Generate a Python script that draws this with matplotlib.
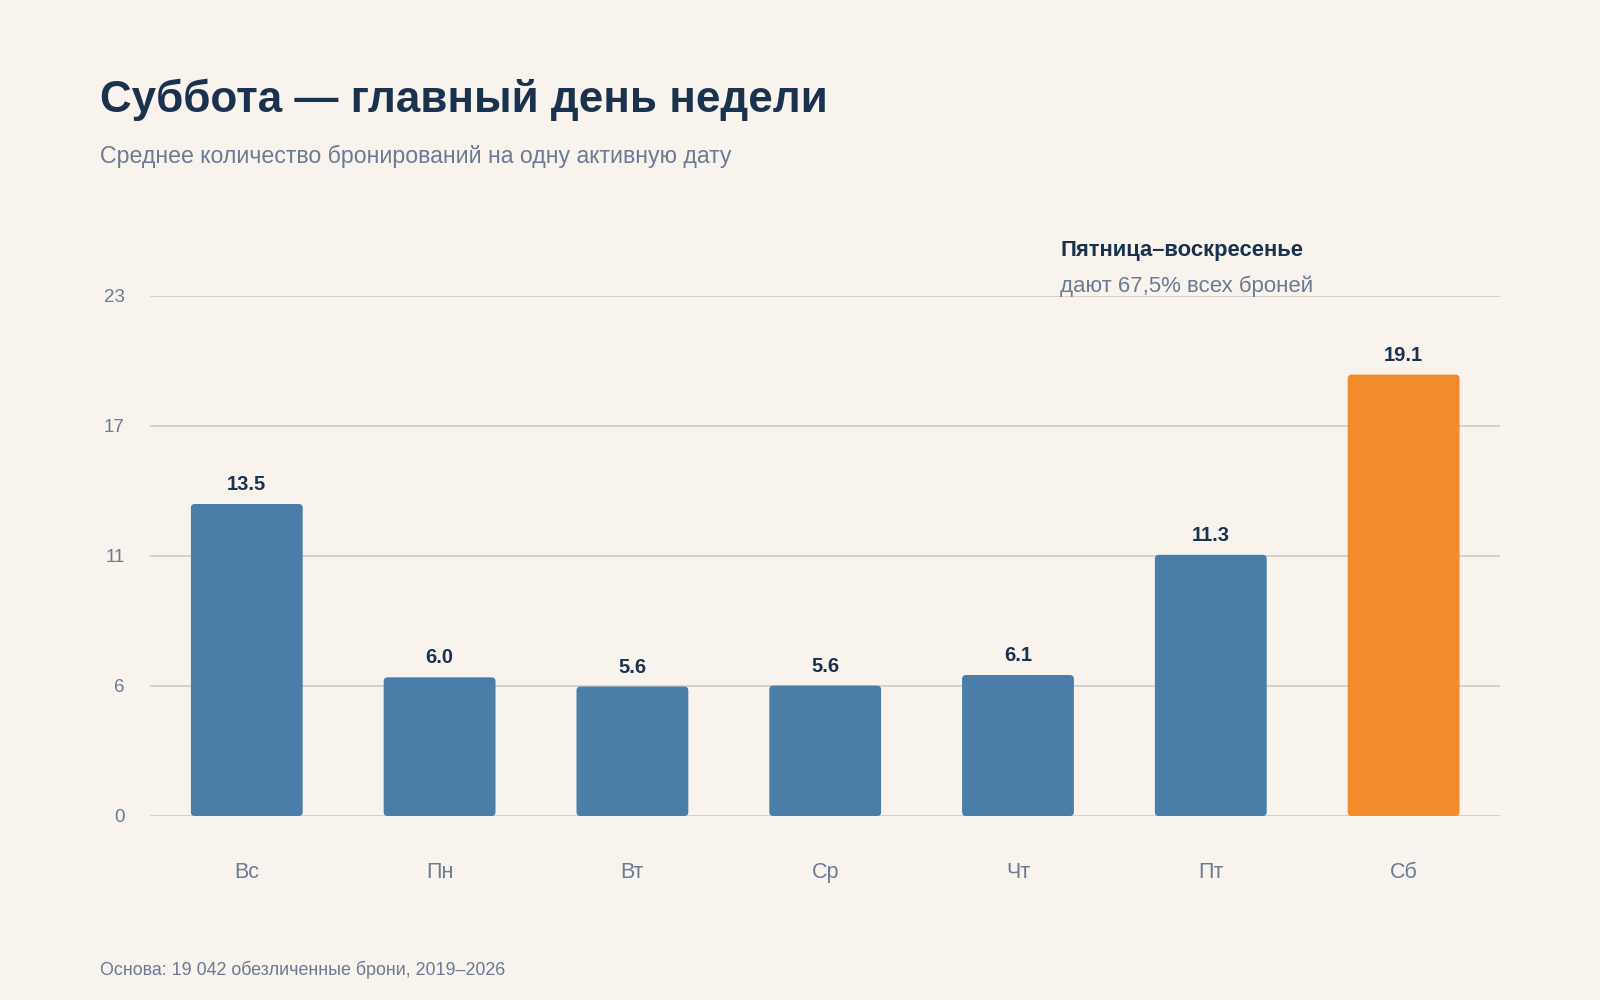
import matplotlib.pyplot as plt
from matplotlib.patches import FancyBboxPatch

plt.rcParams["font.family"] = ["Liberation Sans", "DejaVu Sans"]

# Data
days = ["Вс", "Пн", "Вт", "Ср", "Чт", "Пт", "Сб"]
avg_bookings = [13.5, 6.0, 5.6, 5.64, 6.1, 11.3, 19.1]
highlight_day = "Сб"
y_max = 22.5
y_ticks = [0, 5.625, 11.25, 16.875, 22.5]
y_tick_labels = ["0", "6", "11", "17", "23"]

title = "Суббота — главный день недели"
subtitle = "Среднее количество бронирований на одну активную дату"
note_head = "Пятница–воскресенье"
note_body = "дают 67,5% всех броней"
footer = "Основа: 19 042 обезличенные брони, 2019–2026"

# Colours
bg = "#f8f3ed"
navy = "#1a324d"
grey = "#6b7b93"
blue = "#4a7ea8"
orange = "#f28b2a"
grid_col = "#d6d0ca"

fig = plt.figure(figsize=(16, 10), dpi=100, facecolor=bg)
ax = fig.add_axes([0.094, 0.184, 0.8435, 0.52])
ax.set_facecolor(bg)

colors = [orange if d == highlight_day else blue for d in days]
bars = ax.bar(range(len(days)), avg_bookings, width=0.58, color=colors, zorder=3)

ax.set_xlim(-0.5, len(days) - 0.5)
ax.set_ylim(0, y_max)

# Rounded corners: replace plain rectangles with rounded boxes
ax_w_px = 0.8435 * 1600
ax_h_px = 0.52 * 1000
x_per_px = (len(days)) / ax_w_px
y_per_px = y_max / ax_h_px
radius_px = 4
for bar in bars:
    x, y = bar.get_x(), bar.get_y()
    w, h = bar.get_width(), bar.get_height()
    rounded = FancyBboxPatch(
        (x, y), w, h,
        boxstyle=f"round,pad=0,rounding_size={radius_px * x_per_px}",
        mutation_aspect=y_per_px / x_per_px,
        facecolor=bar.get_facecolor(), edgecolor="none", zorder=3
    )
    bar.remove()
    ax.add_patch(rounded)

# Value labels
for i, v in enumerate(avg_bookings):
    ax.annotate(f"{v:.1f}", (i, v), xytext=(0, 10), textcoords="offset points",
                ha="center", va="baseline", fontsize=14.5, fontweight="bold",
                color=navy, zorder=4)

# Grid and ticks
ax.set_yticks(y_ticks)
ax.set_yticklabels(y_tick_labels)
ax.yaxis.grid(True, color=grid_col, linewidth=1.4, zorder=0)
ax.set_axisbelow(True)
ax.set_xticks(range(len(days)))
ax.set_xticklabels(days)
ax.tick_params(axis="y", length=0, pad=18.5, labelsize=13.5, labelcolor=grey)
ax.tick_params(axis="x", length=0, pad=33, labelsize=15.5, labelcolor=grey)
for spine in ax.spines.values():
    spine.set_visible(False)
for lbl in ax.get_yticklabels():
    lbl.set_clip_on(False)

# Texts
fig.text(0.0625, 0.888, title, fontsize=31.7, fontweight="bold", color=navy, va="baseline")
fig.text(0.0625, 0.837, subtitle, fontsize=16.7, color=grey, va="baseline")
fig.text(0.6625, 0.744, note_head, fontsize=15.8, fontweight="bold", color=navy, va="baseline")
fig.text(0.6625, 0.708, note_body, fontsize=16, color=grey, va="baseline")
fig.text(0.0625, 0.025, footer, fontsize=12.9, color=grey, va="baseline")

fig.savefig("out.png", dpi=100, facecolor=bg)
